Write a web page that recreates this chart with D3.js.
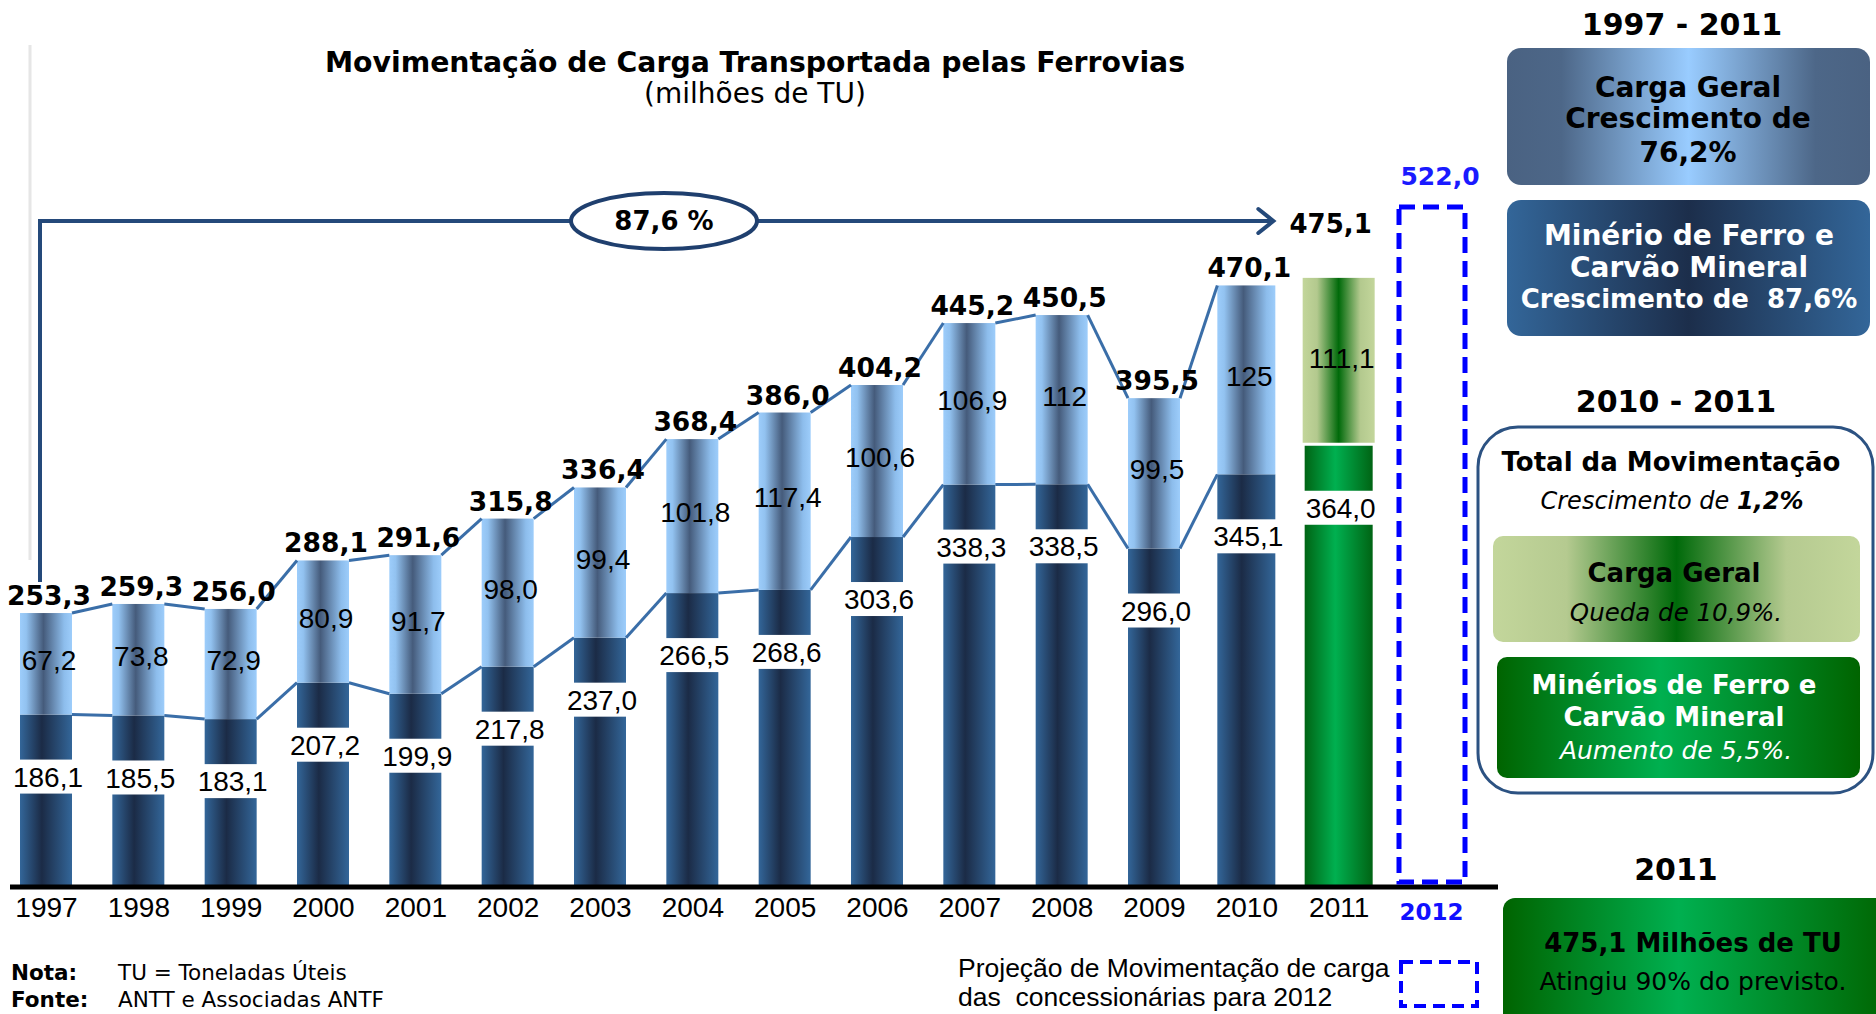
<!DOCTYPE html>
<html><head><meta charset="utf-8">
<script src="https://cdn.jsdelivr.net/npm/d3@7"></script>
<style>body{margin:0;background:#fff;} svg{display:block}</style>
</head><body><svg id="c" width="1876" height="1014"></svg>
<script>
// ---------------- DATA ----------------
const years = [1997,1998,1999,2000,2001,2002,2003,2004,2005,2006,2007,2008,2009,2010,2011];
const minerio = [186.1,185.5,183.1,207.2,199.9,217.8,237.0,266.5,268.6,303.6,338.3,338.5,296.0,345.1,364.0];
const cargaGeral = [67.2,73.8,72.9,80.9,91.7,98.0,99.4,101.8,117.4,100.6,106.9,112,99.5,125,111.1];
const cargaGeralLabels = ["67,2","73,8","72,9","80,9","91,7","98,0","99,4","101,8","117,4","100,6","106,9","112","99,5","125","111,1"];
const totals = [253.3,259.3,256.0,288.1,291.6,315.8,336.4,368.4,386.0,404.2,445.2,450.5,395.5,470.1,475.1];
const projectionYear = 2012;
const projection2012 = 522.0;
const growthLabel = "87,6 %";

// ---------------- SETUP ----------------
const fmt = v => v.toFixed(1).replace('.', ',');
const svg = d3.select('#c');
const defs = svg.append('defs');
function hGrad(id, stops){
  const g = defs.append('linearGradient').attr('id', id)
    .attr('x1','0%').attr('x2','100%').attr('y1','0%').attr('y2','0%');
  stops.forEach(([o,c]) => g.append('stop').attr('offset', o).attr('stop-color', c));
}
hGrad('gDark', [['0%','#336699'],['42%','#1b2b46'],['100%','#336699']]);
hGrad('gLight', [['0%','#9dcdfb'],['12%','#92c2f0'],['45%','#455b7b'],['85%','#8dbdec'],['100%','#9dcdfb']]);
hGrad('gGreenTop', [['0%','#c3d69b'],['20%','#b3c98e'],['50%','#006a0a'],['80%','#b3c98e'],['100%','#c3d69b']]);
hGrad('gGreenBot', [['0%','#006414'],['45%','#00b050'],['100%','#006414']]);
hGrad('gBox1', [['0%','#4a6282'],['15%','#4d6788'],['50%','#99ccff'],['85%','#4d6788'],['100%','#4a6282']]);
hGrad('gBox2', [['0%','#336699'],['50%','#1c2e4b'],['100%','#336699']]);
hGrad('gLightGreen', [['0%','#c3d69b'],['20%','#b5ca90'],['50%','#006a0a'],['80%','#b5ca90'],['100%','#c3d69b']]);
hGrad('gGreen', [['0%','#006400'],['45%','#00b050'],['100%','#006400']]);

const baseY = 887;
const x = d3.scalePoint().domain([...years, projectionYear]).range([46, 1431]);
const y = d3.scaleLinear().domain([72, 522]).range([baseY, 207]);
const barW = yr => yr === 2011 ? 72 : (yr === 2010 ? 58 : 52);

const data = years.map((yr,i) => ({yr, min: minerio[i], cg: cargaGeral[i], cgl: cargaGeralLabels[i], tot: totals[i]}));

// faint left line
svg.append('line').attr('x1',30).attr('x2',30).attr('y1',45).attr('y2',560)
  .attr('stroke','#e6e6e6').attr('stroke-width',3);

// ---------------- TITLE ----------------
svg.append('text').attr('x',755).attr('y',72).attr('text-anchor','middle')
  .attr('font-family','DejaVu Sans').attr('font-weight','bold').attr('font-size',28.3)
  .text('Movimentação de Carga Transportada pelas Ferrovias');
svg.append('text').attr('x',755).attr('y',103).attr('text-anchor','middle')
  .attr('font-family','DejaVu Sans').attr('font-size',28)
  .text('(milhões de TU)');

// ---------------- BARS ----------------
const g = svg.append('g');
data.forEach(d => {
  const w = barW(d.yr), x0 = x(d.yr) - w/2;
  const is11 = d.yr === 2011;
  g.append('rect').attr('x', is11 ? x0+2 : x0).attr('y', y(d.min)).attr('width', is11 ? w-4 : w)
    .attr('height', baseY - y(d.min)).attr('fill', is11 ? 'url(#gGreenBot)' : 'url(#gDark)');
  g.append('rect').attr('x', x0).attr('y', y(d.tot)).attr('width', w)
    .attr('height', y(d.min) - y(d.tot) - (is11 ? 3 : 0)).attr('fill', is11 ? 'url(#gGreenTop)' : 'url(#gLight)');
});

// connector lines
const conn = data.filter(d => d.yr <= 2010);
for (let i = 0; i < conn.length - 1; i++) {
  const a = conn[i], b = conn[i+1];
  ['tot','min'].forEach(k => {
    svg.append('line')
      .attr('x1', x(a.yr) + barW(a.yr)/2).attr('y1', y(a[k]))
      .attr('x2', x(b.yr) - barW(b.yr)/2).attr('y2', y(b[k]))
      .attr('stroke','#3a6ea8').attr('stroke-width',3);
  });
}

// minério labels on white bands
data.forEach(d => {
  const w = barW(d.yr), cy = y(d.min) + 62;
  svg.append('rect').attr('x', x(d.yr) - w/2 - 1).attr('y', cy - 17).attr('width', w + 2).attr('height', 34)
    .attr('fill','#fff');
  svg.append('text').attr('x', x(d.yr) + 2).attr('y', cy).attr('dy','0.36em').attr('text-anchor','middle')
    .attr('font-family','Liberation Sans, Arial').attr('font-size',28).attr('fill','#000')
    .text(fmt(d.min));
});
// carga geral labels
data.forEach(d => {
  svg.append('text').attr('x', x(d.yr) + 3).attr('y', (y(d.tot) + y(d.min))/2 - 4).attr('dy','0.36em')
    .attr('text-anchor','middle').attr('font-family','Liberation Sans, Arial').attr('font-size',28)
    .attr('fill','#000').text(d.cgl);
});
// totals
data.filter(d => d.yr !== 2011).forEach(d => {
  svg.append('text').attr('x', x(d.yr) + 3).attr('y', y(d.tot) - 8).attr('text-anchor','middle')
    .attr('font-family','DejaVu Sans').attr('font-weight','bold').attr('font-size',26.5)
    .attr('fill','#000').text(fmt(d.tot));
});

// ---------------- AXIS ----------------
svg.append('line').attr('x1',10).attr('x2',1498).attr('y1',baseY).attr('y2',baseY)
  .attr('stroke','#000').attr('stroke-width',5);
const axis = svg.append('g').attr('transform',`translate(0,${baseY})`)
  .call(d3.axisBottom(x).tickSize(0).tickPadding(10));
axis.select('.domain').remove();
axis.selectAll('text').attr('font-family','Liberation Sans, Arial').attr('font-size',28).attr('fill','#000');
axis.selectAll('.tick').filter(d => d === projectionYear).select('text')
  .attr('font-family','DejaVu Sans').attr('font-weight','bold').attr('font-size',23).attr('fill','#1010ff')
  .attr('dy','1.0em');

// ---------------- 2012 PROJECTION ----------------
svg.append('rect').attr('x', x(projectionYear) - 32).attr('y', y(projection2012))
  .attr('width', 66).attr('height', baseY - y(projection2012) - 5)
  .attr('fill','none').attr('stroke','#0000ff').attr('stroke-width',5).attr('stroke-dasharray','16,8');
svg.append('text').attr('x', x(projectionYear) + 9).attr('y', y(projection2012) - 22).attr('text-anchor','middle')
  .attr('font-family','DejaVu Sans').attr('font-weight','bold').attr('font-size',25).attr('fill','#1a1aff')
  .text(fmt(projection2012));

// ---------------- GROWTH ARROW ----------------
const arrowY = 221, navy = '#24497a';
svg.append('path').attr('d', `M40,582 V${arrowY} H${x(2010)+26}`)
  .attr('fill','none').attr('stroke',navy).attr('stroke-width',4);
svg.append('path').attr('d', `M${x(2010)+12},${arrowY-12} L${x(2010)+27},${arrowY} L${x(2010)+12},${arrowY+12}`)
  .attr('fill','none').attr('stroke',navy).attr('stroke-width',4).attr('stroke-linecap','round');
svg.append('ellipse').attr('cx',664).attr('cy',arrowY).attr('rx',93).attr('ry',28)
  .attr('fill','#fff').attr('stroke','#1f3f6e').attr('stroke-width',4);
svg.append('text').attr('x',664).attr('y',arrowY).attr('dy','0.36em').attr('text-anchor','middle')
  .attr('font-family','DejaVu Sans').attr('font-weight','bold').attr('font-size',26).text(growthLabel);
svg.append('text').attr('x', x(2011) - 8).attr('y', arrowY + 12).attr('text-anchor','middle')
  .attr('font-family','DejaVu Sans').attr('font-weight','bold').attr('font-size',26)
  .text(fmt(totals[totals.length-1]));

// ---------------- RIGHT PANEL ----------------
function txt(xp, yp, s, o = {}) {
  const t = svg.append('text').attr('x', xp).attr('y', yp).attr('text-anchor','middle')
    .attr('font-family', o.family || 'DejaVu Sans').attr('font-size', o.size || 26)
    .attr('font-weight', o.bold ? 'bold' : 'normal').attr('font-style', o.italic ? 'italic' : 'normal')
    .attr('fill', o.fill || '#000');
  if (Array.isArray(s)) s.forEach(p => t.append('tspan').attr('font-weight', p[1] ? 'bold' : null).text(p[0]));
  else t.text(s);
  return t;
}
txt(1682, 35, '1997 - 2011', {bold:true, size:30});
svg.append('rect').attr('x',1507).attr('y',48).attr('width',363).attr('height',137).attr('rx',14).attr('fill','url(#gBox1)');
txt(1688, 97, 'Carga Geral', {bold:true, size:28});
txt(1688, 128, 'Crescimento de', {bold:true, size:28});
txt(1688, 162, '76,2%', {bold:true, size:28});
svg.append('rect').attr('x',1507).attr('y',200).attr('width',363).attr('height',136).attr('rx',14).attr('fill','url(#gBox2)');
txt(1689, 245, 'Minério de Ferro e', {bold:true, size:28, fill:'#fff'});
txt(1689, 277, 'Carvão Mineral', {bold:true, size:28, fill:'#fff'});
txt(1689, 308, 'Crescimento de  87,6%', {bold:true, size:26, fill:'#fff'}).attr('xml:space','preserve');

txt(1676, 412, '2010 - 2011', {bold:true, size:30});
svg.append('rect').attr('x',1478).attr('y',427).attr('width',395).attr('height',366).attr('rx',40)
  .attr('fill','#fff').attr('stroke','#2c5282').attr('stroke-width',3);
txt(1671, 471, 'Total da Movimentação', {bold:true, size:26});
txt(1672, 509, [['Crescimento de ', false], ['1,2%', true]], {italic:true, size:24});
svg.append('rect').attr('x',1493).attr('y',536).attr('width',367).attr('height',106).attr('rx',10).attr('fill','url(#gLightGreen)');
txt(1674, 582, 'Carga Geral', {bold:true, size:26});
txt(1676, 621, 'Queda de 10,9%.', {italic:true, size:24.5});
svg.append('rect').attr('x',1497).attr('y',657).attr('width',363).attr('height',121).attr('rx',10).attr('fill','url(#gGreen)');
txt(1674, 694, 'Minérios de Ferro e', {bold:true, size:26, fill:'#fff'});
txt(1674, 726, 'Carvão Mineral', {bold:true, size:26, fill:'#fff'});
txt(1676, 759, 'Aumento de 5,5%.', {italic:true, size:25, fill:'#fff'});

txt(1676, 880, '2011', {bold:true, size:30});
svg.append('rect').attr('x',1503).attr('y',898).attr('width',390).attr('height',140).attr('rx',12).attr('fill','url(#gGreen)');
txt(1693, 952, '475,1 Milhões de TU', {bold:true, size:26});
txt(1693, 990, 'Atingiu 90% do previsto.', {size:25});

// ---------------- NOTES & LEGEND ----------------
const note = (xp, yp, s, b) => svg.append('text').attr('x', xp).attr('y', yp)
  .attr('font-family','DejaVu Sans').attr('font-size',21.5).attr('font-weight', b ? 'bold' : 'normal').text(s);
note(11, 980, 'Nota:', true);
note(118, 980, 'TU = Toneladas Úteis');
note(11, 1007, 'Fonte:', true);
note(118, 1007, 'ANTT e Associadas ANTF');

svg.append('text').attr('x',958).attr('y',977).attr('font-family','Liberation Sans, Arial').attr('font-size',26.5)
  .text('Projeção de Movimentação de carga');
svg.append('text').attr('x',958).attr('y',1006).attr('font-family','Liberation Sans, Arial').attr('font-size',26.5)
  .attr('xml:space','preserve').text('das  concessionárias para 2012');
svg.append('rect').attr('x',1401).attr('y',962).attr('width',76).attr('height',44)
  .attr('fill','none').attr('stroke','#0000ff').attr('stroke-width',4).attr('stroke-dasharray','12,7');
</script></body></html>
